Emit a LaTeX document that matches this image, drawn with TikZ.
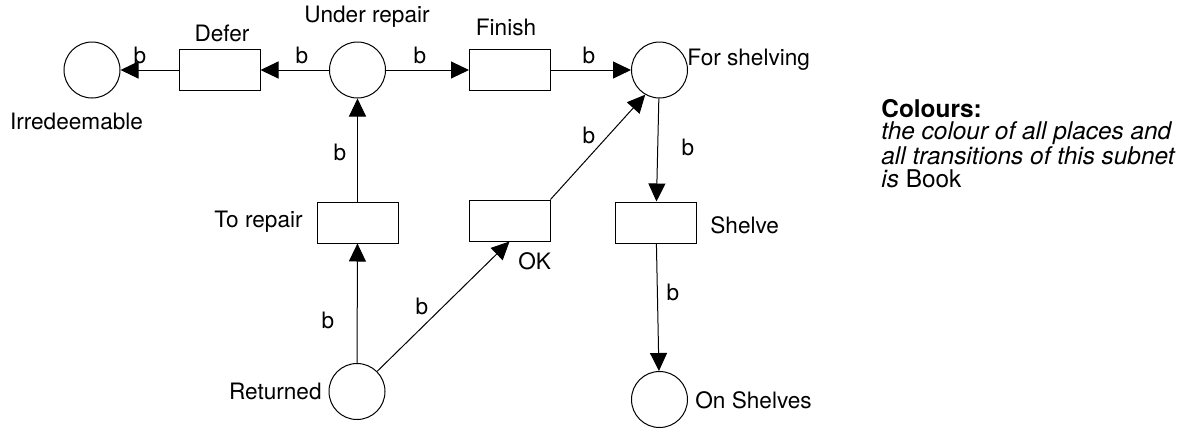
\documentclass[tikz,border=0pt]{standalone}
\usepackage{fontspec}
\setmainfont{TeX Gyre Heros}
\usetikzlibrary{arrows.meta}
\begin{document}
\begin{tikzpicture}[x=0.5pt,y=-0.5pt,
  every node/.style={font=\fontsize{11.3}{11.2}\selectfont, inner sep=0pt},
  place/.style={draw, circle, minimum size=28pt, line width=0.5pt},
  trans/.style={draw, rectangle, minimum width=40.5pt, minimum height=20.5pt, line width=0.5pt},
  arc/.style={line width=0.5pt, -{Triangle[length=9pt,width=8.5pt]}}]
  \useasboundingbox (0,0) rectangle (1191,429);

  % places
  \node[place] (irr)  at (92,70) {};
  \node[place] (urep) at (357.5,70) {};
  \node[place] (fs)   at (659.5,70) {};
  \node[place] (ret)  at (357,391.5) {};
  \node[place] (ons)  at (659.5,399.5) {};

  % transitions
  \node[trans] (defer)  at (219.5,70) {};
  \node[trans] (finish) at (510,70) {};
  \node[trans] (torep)  at (357.5,222.5) {};
  \node[trans] (ok)     at (509.5,220.5) {};
  \node[trans] (shelve) at (656,222.5) {};

  % names of places and transitions
  \node (tirr)    at (76.5,121) {Irredeemable};
  \node (tdefer)  at (222,33) {Defer};
  \node (turep)   at (367,17) {Under repair};
  \node (tfinish) at (506,27) {Finish};
  \node[anchor=west] (tfs)     at (687,60) {For shelving};
  \node[anchor=east] (ttorep)  at (303,222) {To repair};
  \node[anchor=west] (tok)     at (518,261) {OK};
  \node[anchor=west] (tshelve) at (710,225) {Shelve};
  \node[anchor=east] (tret)    at (322,391) {Returned};
  \node[anchor=west] (tons)    at (695,400) {On Shelves};

  % arcs
  \draw[arc] (urep) -- (defer);
  \draw[arc] (defer) -- (irr);
  \draw[arc] (urep) -- (finish);
  \draw[arc] (finish) -- (fs);
  \draw[arc] (torep) -- (urep);
  \draw[arc] (ret) -- (torep);
  \draw[arc] (ret.45) -- (ok.south);
  \draw[arc] (ok.north east) -- (fs.-120);
  \draw[arc] (fs) -- (shelve);
  \draw[arc] (shelve) -- (ons);

  % arc inscriptions
  \node (b1)  at (140,55) {b};
  \node (b2)  at (302,55) {b};
  \node (b3)  at (420,55) {b};
  \node (b4)  at (589,55) {b};
  \node (b5)  at (340,152) {b};
  \node (b6)  at (589,135) {b};
  \node (b7)  at (688,147) {b};
  \node (b8)  at (328,320) {b};
  \node (b9)  at (422,306) {b};
  \node (b10) at (673,292) {b};

  % colour set declaration
  \node[anchor=north west, align=left, font=\fontsize{12.2}{11.2}\selectfont] (colours) at (881,99)
    {\textbf{Colours:}\\
     \textit{the colour of all places and}\\
     \textit{all transitions of this subnet}\\
     \textit{is} Book};
\end{tikzpicture}
\end{document}
